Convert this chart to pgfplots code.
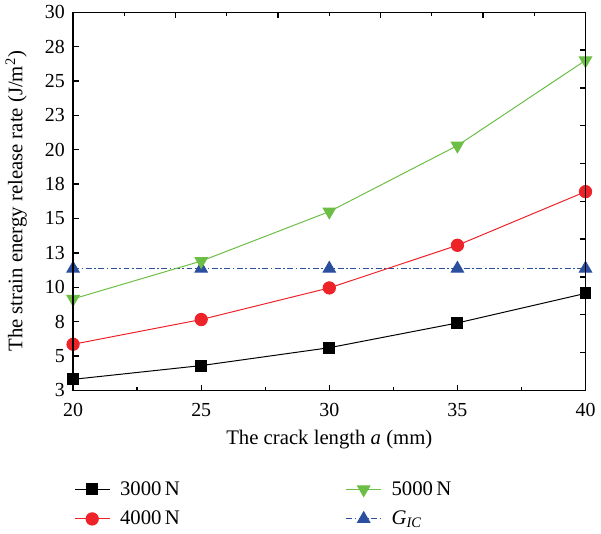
\documentclass[border=0pt]{standalone}
\usepackage{fontspec}
\setmainfont{Liberation Serif}
\usepackage{pgfplots}
\pgfplotsset{compat=1.18}
\definecolor{cred}{HTML}{EE2229}
\definecolor{cgreen}{HTML}{6CBE45}
\definecolor{cblue}{HTML}{2C4E9F}
\pgfplotsset{
  frame/.style={
    scale only axis, width=309pt, height=228pt,
    xmin=20, xmax=40, ymin=2.5, ymax=30,
    tick align=inside,
    major tick length=3.5pt, minor tick length=2.2pt,
    axis line style={line width=0.8pt},
    every tick/.style={black, line width=0.8pt},
    every minor tick/.style={black, line width=0.8pt},
  },
}
\begin{document}
\begin{tikzpicture}
\begin{axis}[
  frame, name=main,
  xtick={20,25,...,40}, minor xtick={22.5,27.5,32.5,37.5},
  ytick={2.5,5,...,30},
  yticklabels={3,5,8,10,13,15,18,20,23,25,28,30},
  xtick pos=left, ytick pos=left,
  /pgf/number format/assume math mode=true,
  tick label style={font=\fontsize{12}{14}\selectfont},
  yticklabel style={xshift=-1.5pt},
  xticklabel style={yshift=-4pt},
  xlabel style={font=\fontsize{12.5}{15}\selectfont},
  ylabel style={font=\fontsize{12.5}{15}\selectfont},
  ylabel shift=4pt, xlabel shift=1.5pt,
  xlabel={The crack length \textit{a} (mm)},
  ylabel={The strain energy release rate (J/m\textsuperscript{2})},
  legend columns=2,
  legend cell align=left,
  legend style={at={(-0.008,-0.222)}, anchor=north west, draw=none, fill=none,
    font=\fontsize{12.5}{15}\selectfont, row sep=4pt},
  /tikz/every even column/.append style={column sep=98pt},
  legend image code/.code={
    \draw[mark repeat=2, mark phase=2] plot coordinates {(0pt,0pt) (10.5pt,0pt) (21pt,0pt)};},
]
% legend, in the reference's row order
\addlegendimage{black, line width=0.6pt, mark=square*, mark size=3.3pt}
\addlegendentry{\hspace*{4pt}3000\,N}
\addlegendimage{cgreen, line width=0.6pt, mark=triangle*, mark size=4.3pt, mark options={rotate=180}}
\addlegendentry{\hspace*{4pt}5000\,N}
\addlegendimage{cred, line width=0.6pt, mark=*, mark size=3.7pt}
\addlegendentry{\hspace*{4pt}4000\,N}
\addlegendimage{cblue, line width=0.6pt, dash pattern=on 3.6pt off 1.5pt on 1pt off 1.5pt, mark=triangle*, mark size=4.3pt, mark options={solid}}
\addlegendentry{\hspace*{4pt}\textit{G}\textsubscript{\textit{IC}}}
% G_IC
\addplot[cblue, line width=0.6pt, dash pattern=on 3.6pt off 1.5pt on 1pt off 1.5pt,
  mark=triangle*, mark size=4.3pt, mark options={solid}, forget plot] coordinates {
(20,11.35) (25,11.35) (30,11.35) (35,11.35) (40,11.35)
};
% 3000 N
\addplot[black, line width=0.6pt, mark=square*, mark size=3.3pt, forget plot] coordinates {
(20,3.3) (25,4.3) (30,5.6) (35,7.4) (40,9.55)
};
% 4000 N
\addplot[cred, line width=0.6pt, mark=*, mark size=3.7pt, forget plot] coordinates {
(20,5.85) (25,7.65) (30,9.95) (35,13.05) (40,16.95)
};
% 5000 N
\addplot[cgreen, line width=0.6pt, mark=triangle*, mark size=4.3pt,
  mark options={rotate=180}, forget plot] coordinates {
(20,9.15) (25,11.9) (30,15.5) (35,20.3) (40,26.5)
};
\end{axis}
% top and right axes carry their own ticks
\begin{axis}[
  frame, at={(main.south west)}, anchor=south west,
  xtick={24,28,32,36}, minor xtick={22,26,30,34,38},
  ytick={5.25,8,10.75,13.5,16.25,19,21.75,24.5,27.25},
  xtick pos=right, ytick pos=right,
  xticklabels={}, yticklabels={},
]
\end{axis}
\end{tikzpicture}
\end{document}
